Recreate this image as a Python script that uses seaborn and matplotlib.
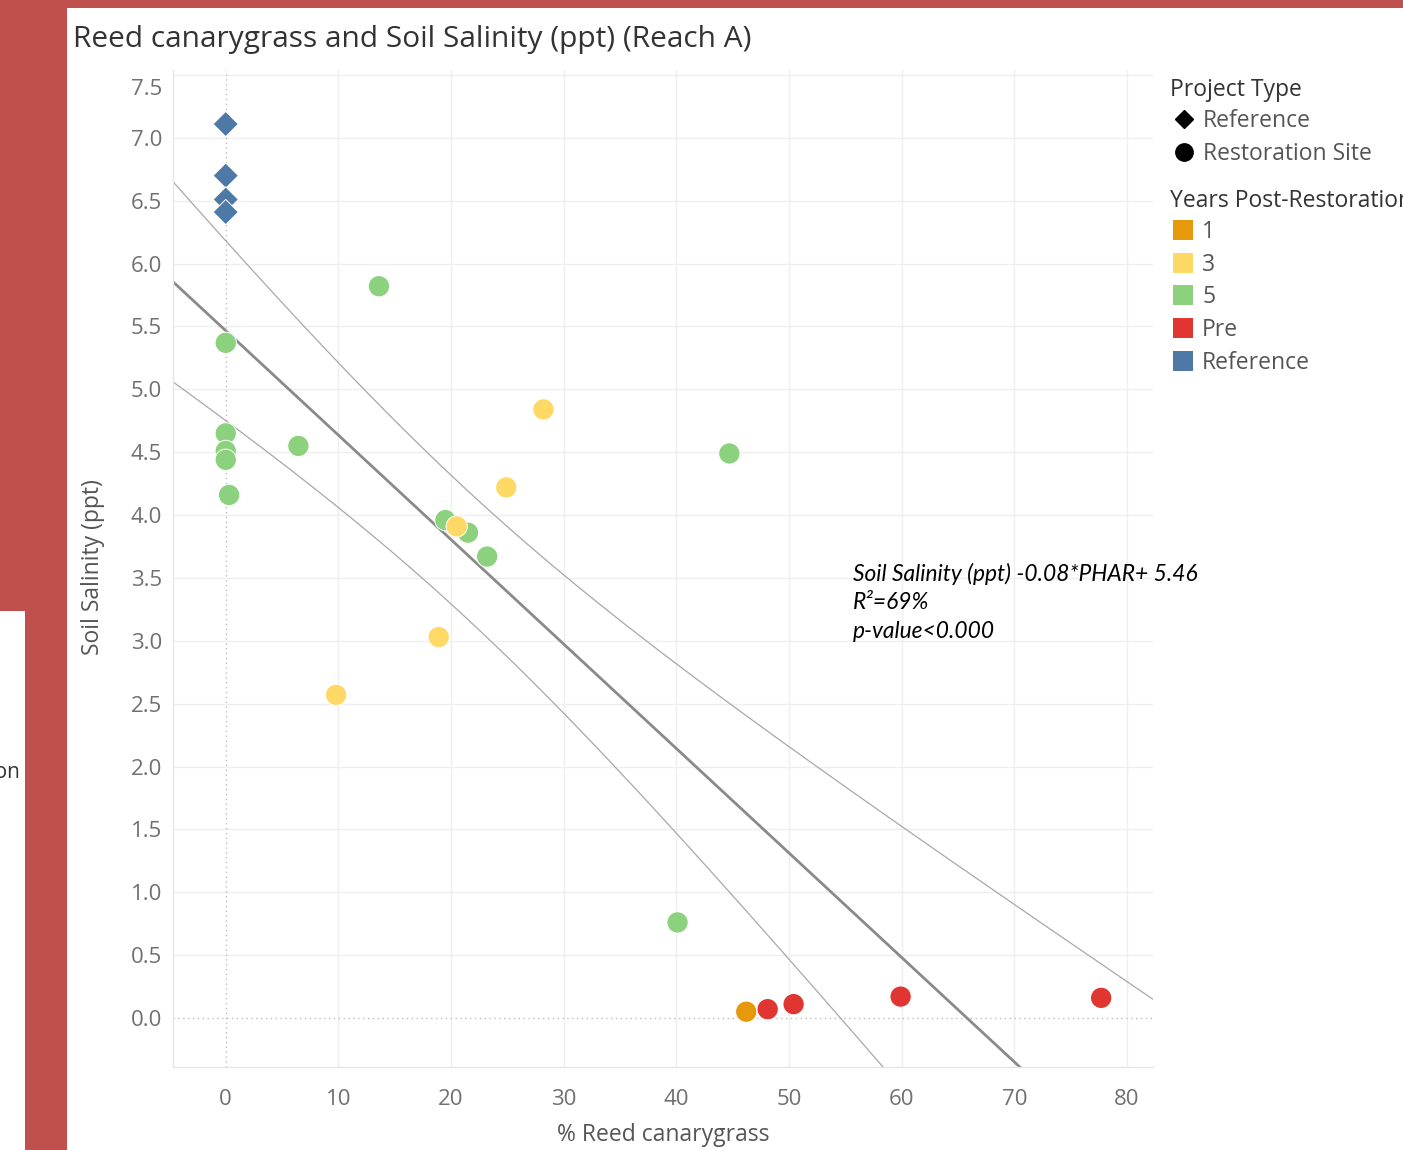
import matplotlib.pyplot as plt
import numpy as np
import pandas as pd
import seaborn as sns
from matplotlib.lines import Line2D
from matplotlib.patches import Rectangle
from matplotlib.transforms import ScaledTranslation

# values
pct_reed = [0, 0, 0, 0,
            13.6, 0, 0, 0, 0, 0.3, 6.45, 19.5, 21.5, 23.2, 44.7, 40.1,
            28.2, 24.9, 20.5, 18.9, 9.8,
            46.2,
            48.1, 50.4, 59.9, 77.7]
salinity = [7.11, 6.70, 6.51, 6.41,
            5.82, 5.37, 4.65, 4.51, 4.44, 4.16, 4.55, 3.96, 3.86, 3.67, 4.49, 0.76,
            4.84, 4.22, 3.91, 3.03, 2.57,
            0.05,
            0.07, 0.11, 0.17, 0.16]
years = ['Reference'] * 4 + ['5'] * 12 + ['3'] * 5 + ['1'] + ['Pre'] * 4
project = ['Reference'] * 4 + ['Restoration Site'] * 22

year_levels = ['1', '3', '5', 'Pre', 'Reference']
year_colors = ['#E6990A', '#FFD966', '#8CD17D', '#E03531', '#4E79A7']
project_levels = ['Reference', 'Restoration Site']
x_ticks = [0, 10, 20, 30, 40, 50, 60, 70, 80]
y_ticks = [0.0, 0.5, 1.0, 1.5, 2.0, 2.5, 3.0, 3.5, 4.0, 4.5, 5.0, 5.5, 6.0, 6.5, 7.0, 7.5]

sns.set_style('white')
plt.rcParams['font.family'] = ['Open Sans', 'DejaVu Sans']

W, H = 1403, 1150
fig = plt.figure(figsize=(W / 100, H / 100), dpi=100, facecolor='#C0504D')


def fx(px):
    return px / W


def fy(py):
    return 1 - py / H


# white dashboard panels on the red background
fig.patches.append(Rectangle((fx(67), 0), 1 - fx(67), fy(8), transform=fig.transFigure,
                             facecolor='white', edgecolor='none', zorder=-2))
fig.patches.append(Rectangle((0, 0), fx(25), fy(611), transform=fig.transFigure,
                             facecolor='white', edgecolor='none', zorder=-2))
fig.text(fx(20), fy(772), 'Years Post-Restoration', ha='right', va='center',
         fontsize=15, color='#333333')

ax = fig.add_axes([fx(173), fy(1067), fx(1153) - fx(173), (1067 - 70) / H])
ax.set_xlim(-4.68, 82.3)
ax.set_ylim(-0.39, 7.54)

# light grid, dotted zero lines
for v in x_ticks:
    if v != 0:
        ax.axvline(v, color='#efefef', lw=1.0, zorder=0)
for v in y_ticks:
    if v != 0:
        ax.axhline(v, color='#efefef', lw=1.0, zorder=0)
ax.axvline(0, color='#bdbdbd', lw=1.0, ls=(0, (1, 2.5)), zorder=1)
ax.axhline(0, color='#bdbdbd', lw=1.0, ls=(0, (1, 2.5)), zorder=1)

# linear trend with 95% confidence bands
x = np.array(pct_reed)
y = np.array(salinity)
slope, intercept = np.polyfit(x, y, 1)
n = len(x)
resid = y - (intercept + slope * x)
s = np.sqrt(np.sum(resid ** 2) / (n - 2))
sxx = np.sum((x - x.mean()) ** 2)
try:
    from scipy import stats
    t = stats.t.ppf(0.975, n - 2)
except ImportError:
    t = 2.064
xs = np.linspace(-6, 84, 400)
fit = intercept + slope * xs
half = t * s * np.sqrt(1 / n + (xs - x.mean()) ** 2 / sxx)
ax.plot(xs, fit, color='#8a8a8a', lw=2.0, zorder=2)
ax.plot(xs, fit + half, color='#a8a8a8', lw=0.9, zorder=2)
ax.plot(xs, fit - half, color='#a8a8a8', lw=0.9, zorder=2)

df = pd.DataFrame({'reed': pct_reed, 'salinity': salinity,
                   'years': years, 'project': project})
sns.scatterplot(data=df, x='reed', y='salinity',
                hue='years', hue_order=year_levels,
                palette=dict(zip(year_levels, year_colors)),
                style='project', markers={'Reference': 'D', 'Restoration Site': 'o'},
                size='project', sizes={'Reference': 165, 'Restoration Site': 235},
                edgecolor='#ffffffaa', linewidth=0.7, alpha=1,
                legend=False, ax=ax, zorder=3)

ax.set_xticks(x_ticks)
ax.set_xticklabels([str(v) for v in x_ticks])
ax.set_yticks(y_ticks)
ax.set_yticklabels([f'{v:.1f}' for v in y_ticks])
ax.tick_params(length=0, labelsize=16, labelcolor='#707070')
ax.tick_params(axis='y', pad=8)
ax.tick_params(axis='x', pad=16)
top_lab = ax.get_yticklabels()[-1]
top_lab.set_transform(top_lab.get_transform() + ScaledTranslation(0, -0.12, fig.dpi_scale_trans))
ax.set_xlabel('')
ax.set_ylabel('')
for side in ['top', 'right']:
    ax.spines[side].set_visible(False)
for side in ['left', 'bottom']:
    ax.spines[side].set_color('#e6e6e6')
    ax.spines[side].set_linewidth(1.0)

fig.text(fx(73), fy(39), 'Reed canarygrass and Soil Salinity (ppt) (Reach A)',
         va='center', fontsize=21.5, color='#333333')
fig.text(fx(663), fy(1135), '% Reed canarygrass', ha='center', va='center',
         fontsize=16.5, color='#555555')
fig.text(fx(93), fy(567), 'Soil Salinity (ppt)', ha='center', va='center',
         rotation=90, fontsize=16.5, color='#555555')

# regression note
note = ['Soil Salinity (ppt) -0.08*PHAR+ 5.46', 'R\u00b2=69%', 'p-value<0.000']
for i, line in enumerate(note):
    fig.text(fx(853), fy(574 + 28.5 * i), line, va='center', fontsize=16.4,
             style='italic', family=['Lato', 'DejaVu Sans'], color='black')

# legends
fig.text(fx(1170), fy(90), 'Project Type', va='center', fontsize=16.5, color='#333333')
legend_markers = ['D', 'o']
legend_ms = [9, 12.5]
for i, lab in enumerate(project_levels):
    yc = 119 + 32.5 * i
    fig.add_artist(Line2D([fx(1184)], [fy(yc)], marker=legend_markers[i], ms=legend_ms[i],
                          color='black', transform=fig.transFigure))
    fig.text(fx(1203), fy(yc + 2), lab, va='center', fontsize=16.5, color='#555555')

fig.text(fx(1170), fy(201), 'Years Post-Restoration', va='center', fontsize=16.5, color='#333333')
for i, lab in enumerate(year_levels):
    yc = 230 + 32.7 * i
    fig.patches.append(Rectangle((fx(1173), fy(yc + 10)), 20 / W, 20 / H,
                                 transform=fig.transFigure, facecolor=year_colors[i],
                                 edgecolor='none'))
    fig.text(fx(1202), fy(yc + 2), lab, va='center', fontsize=16.5, color='#555555')

fig.savefig('out.png', dpi=100, facecolor=fig.get_facecolor())
